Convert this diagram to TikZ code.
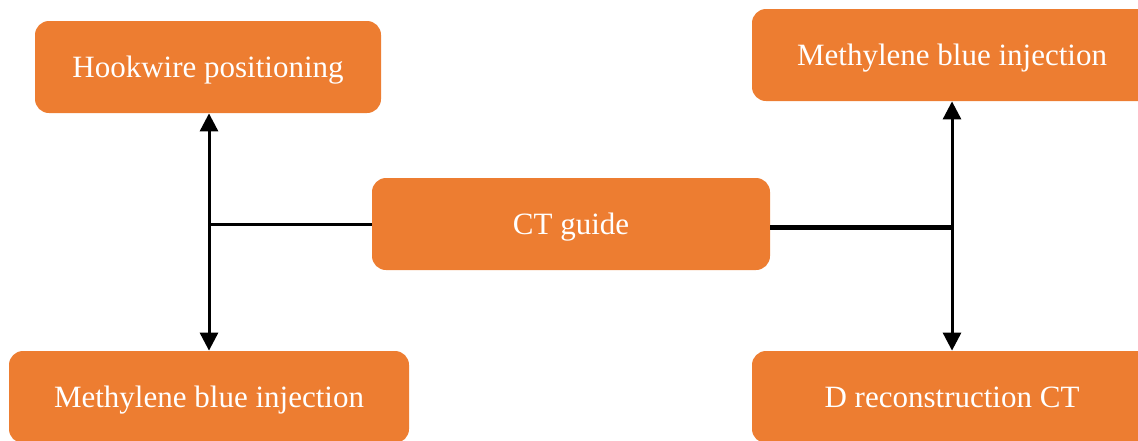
\documentclass[tikz,border=0pt]{standalone}
\usepackage{fontspec}
\setmainfont{Liberation Serif}
\usetikzlibrary{arrows.meta}
\definecolor{boxorange}{HTML}{ED7D31}

\begin{document}
\begin{tikzpicture}[x=0.5pt,y=-0.5pt]
\tikzstyle{box}=[rectangle,rounded corners=7pt,fill=boxorange,text=white,
  font=\fontsize{15.5}{18}\selectfont,text depth=0pt,minimum height=46pt,inner sep=0pt]
\tikzstyle{link}=[line width=1.5pt]
\tikzstyle{arr}=[link,-{Triangle[width=9pt,length=9pt]}]

\useasboundingbox (0,0) rectangle (1138,440);

% boxes
\node[box,minimum width=173pt] (hook) at (208,67) {Hookwire positioning};
\node[box,minimum width=200pt] (mbtop) at (952,55) {Methylene blue injection};
\node[box,minimum width=199pt] (ctguide) at (571,224) {CT guide};
\node[box,minimum width=200pt] (mbbot) at (209,397) {Methylene blue injection};
\node[box,minimum width=200pt] (drec) at (952,397) {D reconstruction CT};

% left branch
\coordinate (ljoin) at (209,224);
\draw[link] (ctguide.west) -- (ljoin);
\draw[arr] (ljoin) -- (ljoin |- hook.south);
\draw[arr] (ljoin) -- (ljoin |- mbbot.north);

% right branch
\coordinate (rjoin) at (952,227);
\draw[line width=2.5pt] (ctguide.east |- rjoin) -- (rjoin);
\draw[arr] (rjoin) -- (rjoin |- mbtop.south);
\draw[arr] (rjoin) -- (rjoin |- drec.north);
\end{tikzpicture}
\end{document}
